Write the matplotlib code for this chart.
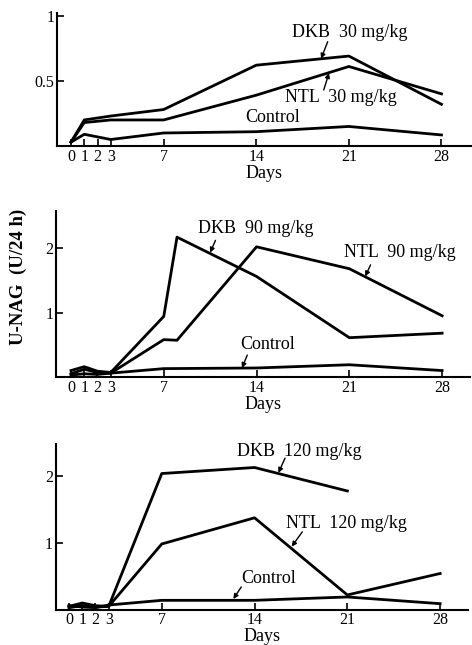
import matplotlib
matplotlib.use("Agg")
from matplotlib import pyplot as plt

plt.rcParams['font.family'] = ['Liberation Serif', 'DejaVu Serif']

# x ticks shared by all panels
day_ticks = [0, 1, 2, 3, 7, 14, 21, 28]

# panel 1: 30 mg/kg
days_30 = [0, 1, 3, 7, 14, 21, 28]
dkb_30 = [0.03, 0.20, 0.23, 0.28, 0.62, 0.69, 0.32]
ntl_30 = [0.03, 0.18, 0.20, 0.20, 0.39, 0.61, 0.40]
ctrl_30 = [0.03, 0.09, 0.05, 0.10, 0.11, 0.15, 0.085]

# panel 2: 90 mg/kg
days_dkb_90 = [0, 1, 2, 3, 7, 8, 14, 21, 28]
dkb_90 = [0.10, 0.16, 0.09, 0.07, 0.94, 2.17, 1.56, 0.61, 0.68]
days_ntl_90 = [0, 1, 2, 3, 7, 8, 14, 21, 28]
ntl_90 = [0.05, 0.12, 0.07, 0.06, 0.58, 0.57, 2.02, 1.68, 0.95]
days_ctrl_90 = [0, 1, 2, 3, 7, 14, 21, 28]
ctrl_90 = [0.03, 0.05, 0.04, 0.06, 0.13, 0.14, 0.19, 0.10]

# panel 3: 120 mg/kg
days_dkb_120 = [0, 1, 2, 3, 7, 14, 21]
dkb_120 = [0.05, 0.10, 0.06, 0.05, 2.03, 2.12, 1.77]
days_ntl_120 = [0, 1, 2, 3, 7, 14, 21, 28]
ntl_120 = [0.03, 0.06, 0.04, 0.05, 0.98, 1.37, 0.22, 0.54]
days_ctrl_120 = [0, 1, 2, 3, 7, 14, 21, 28]
ctrl_120 = [0.06, 0.04, 0.03, 0.07, 0.14, 0.14, 0.19, 0.09]

fig = plt.figure(figsize=(4.72, 6.45), dpi=100)


def style(ax, xlim, ylim, yticks, ylabels):
    ax.set_xlim(*xlim)
    ax.set_ylim(*ylim)
    for s in ["top", "right"]:
        ax.spines[s].set_visible(False)
    for s in ["left", "bottom"]:
        ax.spines[s].set_linewidth(1.5)
    ax.set_xticks(day_ticks)
    ax.set_xticklabels([str(d) for d in day_ticks], fontsize=11.5)
    ax.set_yticks(yticks)
    ax.set_yticklabels(ylabels, fontsize=11.5)
    ax.tick_params(direction="in", length=5, width=1.2, pad=2)
    ax.set_xlabel("Days", fontsize=13, labelpad=0)


def label(ax, text, xy, xytext=None, arrow_from=None):
    ax.text(xy[0], xy[1], text, fontsize=13, va="center", ha="left")
    if arrow_from is not None:
        ax.annotate("", xy=xytext, xytext=arrow_from,
                    arrowprops=dict(arrowstyle="-|>", lw=1.0, color="black",
                                    mutation_scale=7, shrinkA=0, shrinkB=0))


lw = 2.0

ax1 = fig.add_axes([0.1208, 0.7736, 0.879, 0.2062])
ax1.plot(days_30, dkb_30, color="black", lw=lw)
ax1.plot(days_30, ntl_30, color="black", lw=lw)
ax1.plot(days_30, ctrl_30, color="black", lw=lw)
style(ax1, (-1.06, 30.3), (0, 1.02), [0.5, 1], ["0.5", "1"])
label(ax1, "DKB  30 mg/kg", (16.7, 0.87), (18.9, 0.67), (19.4, 0.80))
label(ax1, "NTL  30 mg/kg", (16.2, 0.37), (19.5, 0.56), (19.1, 0.43))
label(ax1, "Control", (13.2, 0.215))

ax2 = fig.add_axes([0.1186, 0.4155, 0.8771, 0.2578])
ax2.plot(days_dkb_90, dkb_90, color="black", lw=lw)
ax2.plot(days_ntl_90, ntl_90, color="black", lw=lw)
ax2.plot(days_ctrl_90, ctrl_90, color="black", lw=lw)
style(ax2, (-1.13, 30.1), (0, 2.58), [1, 2], ["1", "2"])
label(ax2, "DKB  90 mg/kg", (9.6, 2.30), (10.5, 1.93), (10.9, 2.12))
label(ax2, "NTL  90 mg/kg", (20.6, 1.93), (22.2, 1.56), (22.6, 1.74))
label(ax2, "Control", (12.8, 0.51), (12.9, 0.14), (13.3, 0.34))

ax3 = fig.add_axes([0.118, 0.0547, 0.8735, 0.2569])
ax3.plot(days_dkb_120, dkb_120, color="black", lw=lw)
ax3.plot(days_ntl_120, ntl_120, color="black", lw=lw)
ax3.plot(days_ctrl_120, ctrl_120, color="black", lw=lw)
style(ax3, (-1.0, 30.1), (0, 2.47), [1, 2], ["1", "2"])
label(ax3, "DKB  120 mg/kg", (12.7, 2.36), (15.8, 2.04), (16.3, 2.26))
label(ax3, "NTL  120 mg/kg", (16.4, 1.29), (16.8, 0.94), (17.6, 1.16))
label(ax3, "Control", (13.0, 0.47), (12.4, 0.16), (13.0, 0.34))

fig.text(18 / 472, 1 - 277 / 645, "U-NAG  (U/24 h)", rotation=90,
         fontsize=13.5, fontweight="bold", ha="center", va="center")

fig.savefig("out.png", dpi=100)
